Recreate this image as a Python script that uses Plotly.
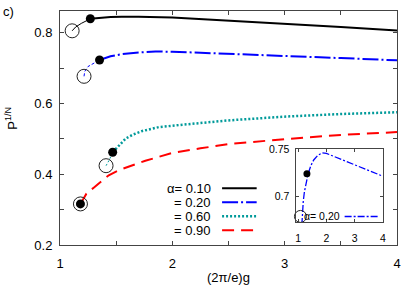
import plotly.graph_objects as go

# ---------------- data ----------------
# alpha = 0.10 (black)
black_thin_x = [1.108, 1.14, 1.19, 1.235, 1.27]
black_thin_y = [0.805, 0.816, 0.826, 0.833, 0.839]
black_x = [1.27, 1.35, 1.45, 1.55, 1.7, 2.0, 2.5, 3.0, 3.5, 4.0]
black_y = [0.839, 0.842, 0.844, 0.845, 0.845, 0.8425, 0.834, 0.825, 0.816, 0.806]

# alpha = 0.20 (blue)
blue_thin_x = [1.214, 1.22, 1.249, 1.308, 1.352]
blue_thin_y = [0.6765, 0.690, 0.704, 0.715, 0.7226]
blue_x = [1.352, 1.45, 1.55, 1.7, 1.85, 2.0, 2.25, 2.5, 3.0, 3.5, 4.0]
blue_y = [0.7226, 0.733, 0.739, 0.744, 0.7465, 0.746, 0.743, 0.7395, 0.734, 0.728, 0.7217]

# alpha = 0.60 (teal)
teal_thin_x = [1.41, 1.44, 1.469]
teal_thin_y = [0.424, 0.441, 0.462]
teal_x = [1.469, 1.52, 1.586, 1.65, 1.733, 1.88, 2.055, 2.13, 2.5, 3.02, 3.5, 4.0]
teal_y = [0.462, 0.48, 0.501, 0.512, 0.522, 0.533, 0.539, 0.541, 0.552, 0.563, 0.570, 0.575]

# alpha = 0.90 (red)
red_x = [1.182, 1.235, 1.3, 1.366, 1.434, 1.53, 1.64, 1.76, 1.88, 2.0, 2.25, 2.5, 3.0, 3.5, 4.0]
red_y = [0.316, 0.345, 0.362, 0.380, 0.397, 0.412, 0.425, 0.438, 0.449, 0.460, 0.473, 0.485, 0.499, 0.511, 0.519]

# open / filled markers (x, y)
open_x = [1.108, 1.214, 1.41, 1.182]
open_y = [0.805, 0.6765, 0.424, 0.316]
dot_x = [1.27, 1.352, 1.469, 1.182]
dot_y = [0.839, 0.7226, 0.462, 0.316]

# inset (alpha = 0.20)
inset_x = [1.13, 1.15, 1.18, 1.22, 1.27, 1.31, 1.352, 1.45, 1.55, 1.7, 1.85, 2.0, 2.25, 2.5, 3.0, 3.5, 4.0]
inset_y = [0.670, 0.683, 0.695, 0.705, 0.714, 0.720, 0.7244, 0.733, 0.739, 0.744, 0.7465, 0.746, 0.743, 0.7395, 0.734, 0.728, 0.7217]
inset_open_x = [1.08]
inset_open_y = [0.679]
inset_dot_x = [1.31]
inset_dot_y = [0.7244]

legend_labels = ["α= 0.10", "= 0.20", "= 0.60", "= 0.90"]
xticks_main = [1, 2, 3, 4]
yticks_main = [0.2, 0.4, 0.6, 0.8]
xticks_inset = [1, 2, 3, 4]
yticks_inset = [0.7, 0.75]

# ---------------- figure ----------------
FONT = "Liberation Sans, Arial, sans-serif"
BLACK, BLUE, TEAL, RED = "#000000", "#0000ff", "#009a9a", "#ff0000"
W, H = 407, 291
L, R, T, B = 60, 401, 7, 245  # plot area in pixels


def px(x):
    return (x - L) / (R - L)


def py(y):
    return (B - y) / (B - T)


fig = go.Figure()


def line(x, y, color, width, dash, ax="x", ay="y"):
    fig.add_trace(go.Scatter(x=x, y=y, mode="lines", xaxis=ax, yaxis=ay,
                             line=dict(color=color, width=width, dash=dash),
                             showlegend=False, hoverinfo="skip"))


line(black_thin_x, black_thin_y, BLACK, 1, "solid")
line(black_x, black_y, BLACK, 2, "solid")
line(blue_thin_x, blue_thin_y, BLUE, 1, "3px,2px")
line(blue_x, blue_y, BLUE, 2, "16px,3px,2px,3px")
line(teal_thin_x, teal_thin_y, TEAL, 1, "2px,2px")
line(teal_x, teal_y, TEAL, 2.5, "2px,2px")
line(red_x, red_y, RED, 2, "12px,7px")

fig.add_trace(go.Scatter(x=open_x, y=open_y, mode="markers", cliponaxis=False,
                         marker=dict(size=14, color="rgba(0,0,0,0)",
                                     line=dict(color="#222", width=1)),
                         showlegend=False, hoverinfo="skip"))
fig.add_trace(go.Scatter(x=dot_x, y=dot_y, mode="markers", cliponaxis=False,
                         marker=dict(size=9, color="black"),
                         showlegend=False, hoverinfo="skip"))

# inset
line(inset_x, inset_y, BLUE, 1.3, "7px,2px,2px,2px", "x2", "y2")
fig.add_trace(go.Scatter(x=inset_open_x, y=inset_open_y, mode="markers", xaxis="x2", yaxis="y2",
                         cliponaxis=False,
                         marker=dict(size=12, color="rgba(0,0,0,0)",
                                     line=dict(color="#222", width=1)),
                         showlegend=False, hoverinfo="skip"))
fig.add_trace(go.Scatter(x=inset_dot_x, y=inset_dot_y, mode="markers", xaxis="x2", yaxis="y2",
                         cliponaxis=False,
                         marker=dict(size=7, color="black"),
                         showlegend=False, hoverinfo="skip"))

axis_common = dict(showgrid=False, zeroline=False, showline=True, linecolor="#444",
                   linewidth=1, mirror="allticks", ticks="inside", tickcolor="#444",
                   ticklen=4, tickfont=dict(family=FONT, size=13, color="black"))

fig.update_layout(
    width=W, height=H,
    margin=dict(l=L, r=W - R, t=T, b=H - B),
    paper_bgcolor="white", plot_bgcolor="rgba(0,0,0,0)",
    xaxis=dict(range=[1, 4], tickvals=xticks_main, ticklabelstandoff=6,
               minor=dict(tickvals=[1.5, 2.5, 3.5], ticks="inside", ticklen=4, tickcolor="#444"),
               **axis_common),
    yaxis=dict(range=[0.2, 0.861], tickvals=yticks_main, tickformat=".1f", ticklabelstandoff=4,
               minor=dict(tickvals=[0.3, 0.5, 0.7], ticks="inside", ticklen=4, tickcolor="#444"),
               **axis_common),
    xaxis2=dict(domain=[px(299.3), px(386.7)], anchor="y2", range=[0.94, 4],
                tickvals=xticks_inset, showgrid=False, zeroline=False, showline=True,
                linecolor="#444", linewidth=1, mirror="allticks", ticks="inside",
                tickcolor="#444", ticklen=3, ticklabelstandoff=6,
                tickfont=dict(family=FONT, size=10.5, color="black")),
    yaxis2=dict(domain=[py(221.7), py(147)], anchor="x2", range=[0.673, 0.751],
                tickvals=yticks_inset, ticktext=["0.7", "0.75"], showgrid=False, zeroline=False,
                showline=True, linecolor="#444", linewidth=1, mirror="allticks",
                ticks="inside", tickcolor="#444", ticklen=3, ticklabelstandoff=4,
                tickfont=dict(family=FONT, size=10.5, color="black")),
)

ann = []
ann.append(dict(text="c)", x=px(0), y=py(7), xref="paper", yref="paper", xanchor="left", yanchor="middle",
                showarrow=False, font=dict(family=FONT, size=13, color="black")))
ann.append(dict(text="(2π/e)g", x=px(230.5), y=py(278), xref="paper", yref="paper",
                xanchor="center", yanchor="middle", showarrow=False,
                font=dict(family=FONT, size=13, color="black")))
ann.append(dict(text="P<sup>1/N</sup>", x=px(11), y=py(116), xref="paper", yref="paper",
                xanchor="center", yanchor="middle", textangle=-90, showarrow=False,
                font=dict(family=FONT, size=13, color="black")))

leg_y = [187.3, 201.5, 215.7, 230]
leg_colors = [BLACK, BLUE, TEAL, RED]
leg_dash = ["solid", "16px,3px,2px,3px", "2px,2px", "12px,7px"]
leg_w = [2, 2, 2.5, 2]
shapes = []
for lab, yy, c, d, w in zip(legend_labels, leg_y, leg_colors, leg_dash, leg_w):
    ann.append(dict(text=lab, x=px(215), y=py(yy), xref="paper", yref="paper",
                    xanchor="right", yanchor="middle", showarrow=False,
                    font=dict(family=FONT, size=13, color="black")))
    shapes.append(dict(type="line", xref="paper", yref="paper", x0=px(224), x1=px(259),
                       y0=py(yy), y1=py(yy), line=dict(color=c, width=w, dash=d)))

# inset legend
ann.append(dict(text="α= 0.20", x=px(345), y=py(216), xref="paper", yref="paper",
                xanchor="right", yanchor="middle", showarrow=False,
                font=dict(family=FONT, size=10.5, color="black")))
shapes.append(dict(type="line", xref="paper", yref="paper", x0=px(348), x1=px(383),
                   y0=py(216), y1=py(216), line=dict(color=BLUE, width=1.3, dash="7px,2px,2px,2px")))

fig.update_layout(annotations=ann, shapes=shapes)
fig.write_html("out.html", config={"displayModeBar": False},
               post_script="document.body.style.margin='0px';document.body.style.padding='0px';")
